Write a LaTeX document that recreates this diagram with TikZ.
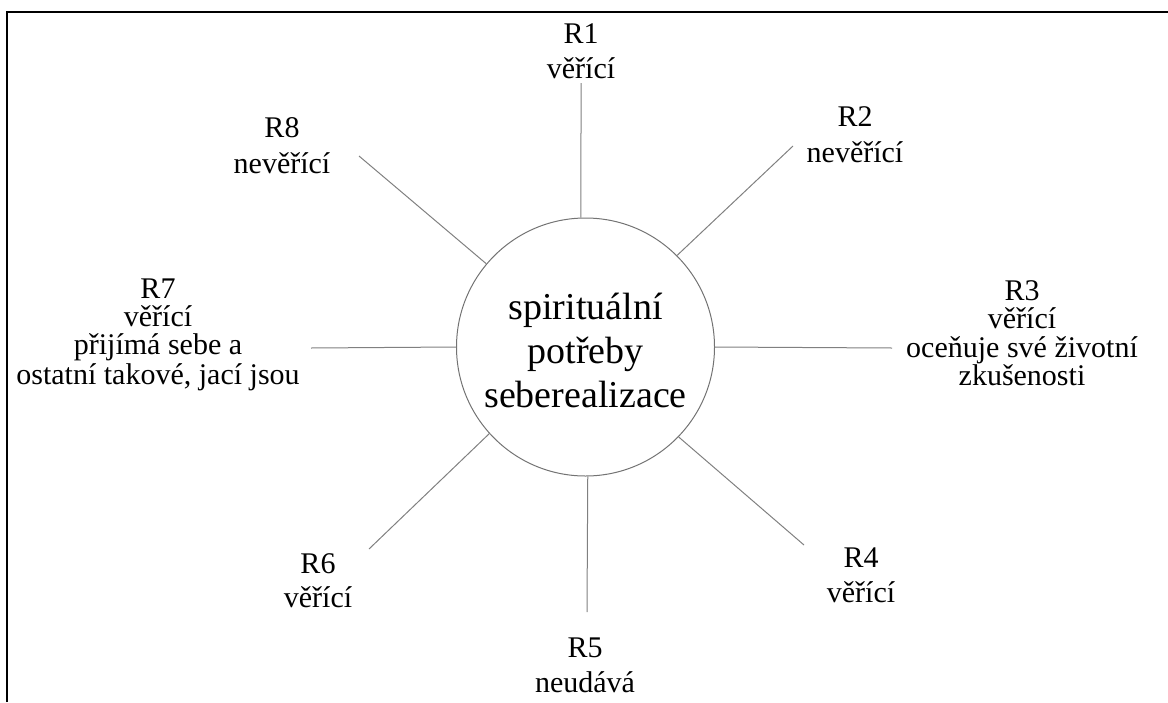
\documentclass[tikz,border=0pt]{standalone}
\usepackage{fontspec}
\setmainfont{Liberation Serif}
\begin{document}
\begin{tikzpicture}[x=1pt,y=-1pt,
  lab/.style={anchor=base, inner sep=0pt, font=\fontsize{30}{36}\selectfont},
  spoke/.style={draw=black!50, line width=1pt},
  frameline/.style={draw=black, line width=2pt}]
\useasboundingbox (0,0) rectangle (1168,702);
\draw[frameline] (7,702) -- (7,12) -- (1168,12);
\node[circle, draw=black!55, line width=1pt, minimum size=258pt, inner sep=0pt] (c) at (585.5,347) {};
\node[align=center, inner sep=0pt, font=\fontsize{38}{44}\selectfont] (ct) at (585.5,350) {spirituální\\potřeby\\seberealizace};
% labels
\node[lab] (r1a) at (581,43) {R1};
\node[lab] (r1b) at (581,78) {věřící};
\node[lab] (r2a) at (855,126) {R2};
\node[lab] (r2b) at (855,162) {nevěřící};
\node[lab] (r3a) at (1022,300) {R3};
\node[lab] (r3b) at (1022,328) {věřící};
\node[lab] (r3c) at (1022,357) {oceňuje své životní};
\node[lab] (r3d) at (1022,385) {zkušenosti};
\node[lab] (r4a) at (861,567) {R4};
\node[lab] (r4b) at (861,602) {věřící};
\node[lab] (r5a) at (585,657) {R5};
\node[lab] (r5b) at (585,692) {neudává};
\node[lab] (r6a) at (318,573) {R6};
\node[lab] (r6b) at (318,607) {věřící};
\node[lab] (r7a) at (158,298) {R7};
\node[lab] (r7b) at (158,326) {věřící};
\node[lab] (r7c) at (158,354) {přijímá sebe a};
\node[lab] (r7d) at (158,384) {ostatní takové, jací jsou};
\node[lab] (r8a) at (282,137) {R8};
\node[lab] (r8b) at (282,173) {nevěřící};
% spoke ends
\coordinate (e1) at (581,83);
\coordinate (e2) at (793,146);
\coordinate (e3) at (892,348);
\coordinate (e4) at (804,545);
\coordinate (e5) at (587,612);
\coordinate (e6) at (369,549);
\coordinate (e7) at (311,348);
\coordinate (e8) at (359,156);
\draw[spoke] (c.92) -- (e1);
\draw[spoke] (c.45) -- (e2);
\draw[spoke] (c.0) -- (e3);
\draw[spoke] (c.316) -- (e4);
\draw[spoke] (c.271) -- (e5);
\draw[spoke] (c.222) -- (e6);
\draw[spoke] (c.180) -- (e7);
\draw[spoke] (c.140) -- (e8);
\end{tikzpicture}
\end{document}
